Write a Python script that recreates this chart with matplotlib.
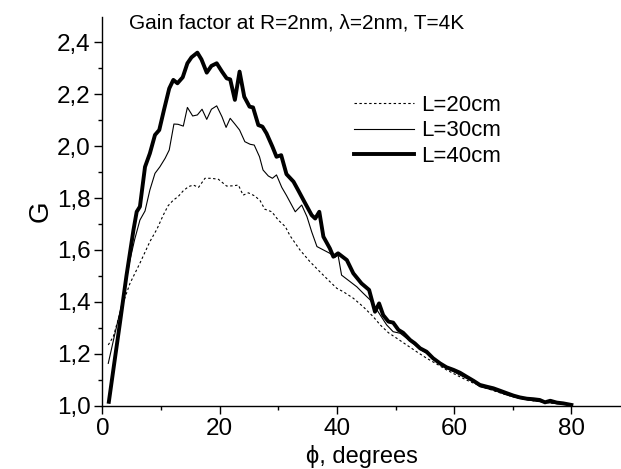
import matplotlib
matplotlib.use("Agg")
import matplotlib.pyplot as plt
from matplotlib.ticker import MultipleLocator, FuncFormatter

plt.rcParams['font.family'] = ['Liberation Sans', 'DejaVu Sans']

# ---- data ----
phi_20 = [1.0, 1.86, 3.3, 4.7, 6.4, 8.1, 9.3, 10.4, 11.2, 12.1, 12.9, 13.8, 14.7, 15.5,
          16.4, 17.5, 18.6, 19.8, 21.2, 22.3, 23.2, 24.0, 24.9, 26.0, 26.9, 27.7, 28.9,
          30.0, 31.2, 32.0, 33.7, 35.4, 37.1, 38.8, 40.0, 41.1, 42.8, 44.5, 46.2, 47.4,
          48.8, 50.2, 51.9, 53.6, 55.3, 57.0, 58.7, 60.4, 62.1, 64.4, 66.7, 69.0, 71.2,
          73.5, 75.8, 80.0]
g_20 = [1.234, 1.266, 1.381, 1.471, 1.549, 1.632, 1.680, 1.735, 1.770, 1.792, 1.805,
        1.828, 1.844, 1.850, 1.841, 1.876, 1.876, 1.872, 1.846, 1.847, 1.850, 1.811,
        1.820, 1.808, 1.790, 1.757, 1.747, 1.715, 1.690, 1.655, 1.600, 1.555, 1.516,
        1.478, 1.452, 1.439, 1.414, 1.381, 1.343, 1.311, 1.281, 1.260, 1.234, 1.208,
        1.183, 1.161, 1.138, 1.118, 1.099, 1.076, 1.058, 1.041, 1.028, 1.019, 1.012,
        1.003]

phi_30 = [1.0, 2.15, 3.3, 4.7, 5.5, 6.4, 7.27, 8.1, 8.97, 9.8, 10.7, 11.4, 12.2, 12.9,
          13.8, 14.5, 15.4, 16.2, 17.0, 17.8, 18.6, 19.5, 20.4, 21.1, 21.8, 22.6, 23.4,
          24.3, 25.2, 25.9, 26.8, 27.4, 28.3, 29.0, 29.7, 30.6, 31.4, 32.9, 34.0, 34.9,
          35.7, 36.6, 37.7, 38.8, 39.7, 40.2, 40.8, 41.9, 43.4, 44.5, 45.7, 46.5, 47.4,
          48.5, 49.6, 50.8, 51.9, 53.0, 54.2, 55.3, 56.4, 57.6, 58.7, 59.9, 61.0, 62.1,
          63.3, 64.4, 66.7, 69.0, 71.2, 73.5, 75.8, 78.1, 80.0]
g_30 = [1.163, 1.279, 1.390, 1.561, 1.640, 1.715, 1.750, 1.831, 1.895, 1.920, 1.953,
        1.985, 2.085, 2.084, 2.077, 2.149, 2.116, 2.120, 2.142, 2.103, 2.142, 2.155,
        2.113, 2.072, 2.107, 2.085, 2.062, 2.017, 2.007, 2.004, 1.959, 1.908, 1.885,
        1.876, 1.889, 1.841, 1.810, 1.747, 1.773, 1.728, 1.670, 1.613, 1.600, 1.587,
        1.572, 1.580, 1.503, 1.484, 1.458, 1.433, 1.407, 1.381, 1.349, 1.311, 1.285,
        1.279, 1.260, 1.240, 1.217, 1.202, 1.179, 1.163, 1.144, 1.131, 1.118, 1.106,
        1.092, 1.073, 1.060, 1.041, 1.028, 1.019, 1.012, 1.007, 1.003]

phi_40 = [1.1, 2.0, 3.0, 4.1, 5.3, 5.85, 6.4, 7.27, 8.1, 8.97, 9.7, 10.5, 11.4, 12.1,
          12.8, 13.7, 14.5, 15.2, 16.2, 16.9, 17.8, 18.6, 19.5, 20.4, 21.2, 21.8, 22.6,
          23.4, 24.2, 25.1, 25.7, 26.6, 27.3, 28.0, 29.0, 29.7, 30.5, 31.4, 32.6, 33.4,
          34.3, 35.7, 36.3, 37.0, 37.7, 38.8, 39.4, 40.2, 41.7, 42.8, 44.2, 45.5, 46.5,
          47.2, 47.9, 48.8, 49.6, 50.5, 51.3, 52.5, 53.3, 54.2, 55.3, 56.4, 57.6, 58.7,
          59.9, 61.0, 62.1, 63.3, 64.4, 65.6, 66.7, 67.8, 69.0, 70.1, 71.2, 72.4, 73.5,
          74.6, 75.5, 76.4, 77.5, 78.6, 80.0]
g_40 = [1.015, 1.160, 1.320, 1.500, 1.677, 1.747, 1.767, 1.920, 1.972, 2.043, 2.062,
        2.139, 2.222, 2.255, 2.242, 2.265, 2.319, 2.342, 2.360, 2.334, 2.283, 2.309,
        2.319, 2.287, 2.261, 2.257, 2.178, 2.287, 2.190, 2.152, 2.149, 2.081, 2.075,
        2.049, 1.998, 1.959, 1.965, 1.892, 1.863, 1.830, 1.792, 1.734, 1.721, 1.747,
        1.651, 1.606, 1.574, 1.587, 1.561, 1.510, 1.471, 1.446, 1.362, 1.394, 1.349,
        1.324, 1.320, 1.292, 1.281, 1.253, 1.240, 1.221, 1.208, 1.183, 1.163, 1.148,
        1.138, 1.127, 1.112, 1.096, 1.080, 1.073, 1.067, 1.058, 1.048, 1.039, 1.032,
        1.027, 1.025, 1.022, 1.013, 1.019, 1.012, 1.009, 1.003]

labels = ["L=20cm", "L=30cm", "L=40cm"]
title = "Gain factor at R=2nm, \u03bb=2nm, T=4K"
xlabel = "\u03d5, degrees"
ylabel = "G"

# ---- figure ----
W, H = 621, 469
fig = plt.figure(figsize=(W / 100, H / 100), dpi=100)
x0, y_bot, y_top = 102.4, 405.7, 17.0
ax = fig.add_axes([x0 / W, 1 - y_bot / H, (W - x0) / W, (y_bot - y_top) / H])

ax.plot(phi_20, g_20, color='black', lw=0.8, ls=(0, (2.2, 2.2)), label=labels[0])
ax.plot(phi_30, g_30, color='black', lw=0.8, label=labels[1])
ax.plot(phi_40, g_40, color='black', lw=2.8, label=labels[2])

ax.set_xlim(0, (W - x0) / 5.862)
ax.set_ylim(1.0, 1.0 + (y_bot - y_top) / 259.6)

for s in ('top', 'right'):
    ax.spines[s].set_visible(False)
for s in ('left', 'bottom'):
    ax.spines[s].set_linewidth(1.0)

ax.xaxis.set_major_locator(MultipleLocator(20))
ax.xaxis.set_minor_locator(MultipleLocator(10))
ax.yaxis.set_major_locator(MultipleLocator(0.2))
ax.yaxis.set_minor_locator(MultipleLocator(0.1))
ax.yaxis.set_major_formatter(FuncFormatter(lambda v, p: f"{v:.1f}".replace('.', ',')))
ax.tick_params(which='major', direction='out', length=5.5, width=1.0, labelsize=17.5, pad=3)
ax.tick_params(which='minor', direction='out', length=3, width=1.0)

ax.set_xlabel(xlabel, fontsize=17, labelpad=4)
ax.set_ylabel(ylabel, fontsize=20, labelpad=2)

fig.text(297 / W, 1 - 23 / H, title, fontsize=15, ha='center', va='center')

leg = ax.legend(loc='upper left', bbox_to_anchor=(354 / W, 1 - 95 / H),
                bbox_transform=fig.transFigure, frameon=False, fontsize=16,
                handlelength=2.7, handletextpad=0.3, labelspacing=0.2,
                borderpad=0, borderaxespad=0)

fig.savefig("out.png", dpi=100)
